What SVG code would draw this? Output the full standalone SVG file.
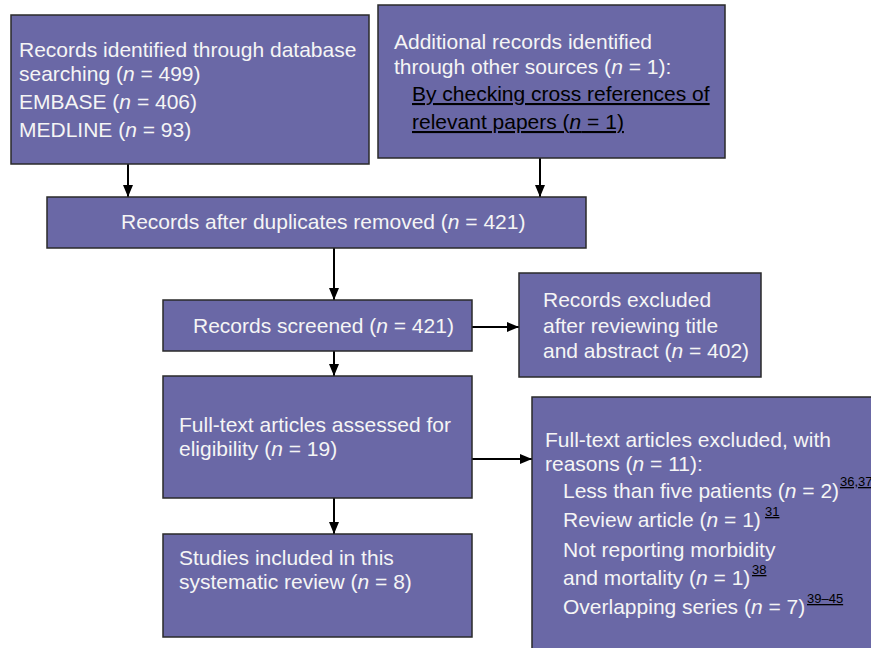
<svg xmlns="http://www.w3.org/2000/svg" width="871" height="648" viewBox="0 0 871 648">
<style>
.box{fill:#6a68a6;stroke:#2a2a2a;stroke-width:1.5}
.t{font-family:"Liberation Sans",Arial,sans-serif;font-size:21px;fill:#f5f5f5}
.u{text-decoration:underline}
.i{font-style:italic}
.sup{font-family:"Liberation Sans",Arial,sans-serif;font-size:13px;fill:#000;text-decoration:underline}
.c{stroke:#000;stroke-width:2;fill:none;marker-end:url(#ah)}
</style>
<defs>
<marker id="ah" markerUnits="userSpaceOnUse" markerWidth="12" markerHeight="10" refX="12" refY="5" orient="auto">
<path d="M0,0 L12,5 L0,10 z" fill="#000"/>
</marker>
</defs>
<rect width="871" height="648" fill="#fff"/>
<g id="connectors">
<line class="c" x1="128" y1="164" x2="128" y2="197"/>
<line class="c" x1="540" y1="158" x2="540" y2="197"/>
<line class="c" x1="334" y1="248" x2="334" y2="300"/>
<line class="c" x1="334" y1="351" x2="334" y2="376"/>
<line class="c" x1="334" y1="498" x2="334" y2="534"/>
<line class="c" x1="472" y1="327" x2="519" y2="327"/>
<line class="c" x1="472" y1="459" x2="532" y2="459"/>
</g>
<g id="n1">
<rect class="box" x="11" y="15" width="358" height="149"/>
<text class="t" x="19" y="57">Records identified through database</text>
<text class="t" x="19" y="81">searching (<tspan class="i">n</tspan> = 499)</text>
<text class="t" x="19" y="109">EMBASE (<tspan class="i">n</tspan> = 406)</text>
<text class="t" x="19" y="137">MEDLINE (<tspan class="i">n</tspan> = 93)</text>
</g>
<g id="n2">
<rect class="box" x="378" y="5" width="347" height="153"/>
<text class="t" x="394" y="49">Additional records identified</text>
<text class="t" x="394" y="74">through other sources (<tspan class="i">n</tspan> = 1):</text>
<text class="t" x="412" y="101" style="fill:#000"><tspan class="u">By checking cross references of</tspan></text>
<text class="t" x="412" y="129" style="fill:#000"><tspan class="u">relevant papers (<tspan class="i">n</tspan> = 1)</tspan></text>
</g>
<g id="n3">
<rect class="box" x="47" y="197" width="539" height="51"/>
<text class="t" x="121" y="229">Records after duplicates removed (<tspan class="i">n</tspan> = 421)</text>
</g>
<g id="n4">
<rect class="box" x="163" y="300" width="309" height="51"/>
<text class="t" x="193" y="333">Records screened (<tspan class="i">n</tspan> = 421)</text>
</g>
<g id="n5">
<rect class="box" x="519" y="273" width="242" height="104"/>
<text class="t" x="543" y="307">Records excluded</text>
<text class="t" x="543" y="333">after reviewing title</text>
<text class="t" x="543" y="358">and abstract (<tspan class="i">n</tspan> = 402)</text>
</g>
<g id="n6">
<rect class="box" x="163" y="376" width="309" height="122"/>
<text class="t" x="179" y="432">Full-text articles assessed for</text>
<text class="t" x="179" y="456">eligibility (<tspan class="i">n</tspan> = 19)</text>
</g>
<g id="n7">
<rect class="box" x="163" y="534" width="309" height="103"/>
<text class="t" x="179" y="565">Studies included in this</text>
<text class="t" x="179" y="589">systematic review (<tspan class="i">n</tspan> = 8)</text>
</g>
<g id="n8">
<rect class="box" x="532" y="397" width="350" height="270"/>
<text class="t" x="545" y="447">Full-text articles excluded, with</text>
<text class="t" x="545" y="471">reasons (<tspan class="i">n</tspan> = 11):</text>
<text class="t" x="563" y="498">Less than five patients (<tspan class="i">n</tspan> = 2)</text>
<text class="sup" x="840" y="486">36,37</text>
<text class="t" x="563" y="527">Review article (<tspan class="i">n</tspan> = 1)</text>
<text class="sup" x="765" y="516">31</text>
<text class="t" x="563" y="557">Not reporting morbidity</text>
<text class="t" x="563" y="585">and mortality (<tspan class="i">n</tspan> = 1)</text>
<text class="sup" x="752" y="574">38</text>
<text class="t" x="563" y="614">Overlapping series (<tspan class="i">n</tspan> = 7)</text>
<text class="sup" x="807" y="603">39–45</text>
</g>
</svg>
